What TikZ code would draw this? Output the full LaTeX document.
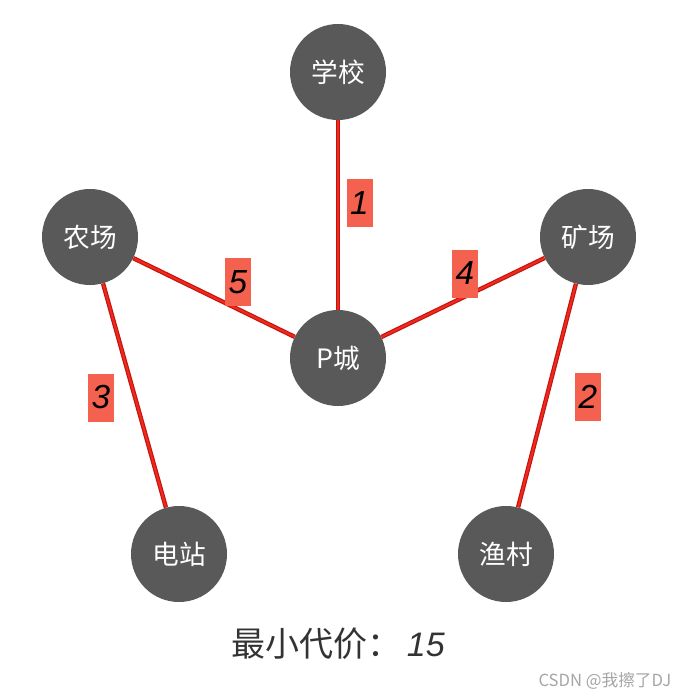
\documentclass[tikz,border=0pt]{standalone}
\usepackage{fontspec}
\setmainfont{Liberation Sans}
\newfontfamily\cjk{Noto Sans CJK SC}
\usepackage{tikz}
\tikzset{>=latex}
\definecolor{towngray}{HTML}{595959}
\definecolor{roadred}{HTML}{EE2A1E}
\definecolor{roaddark}{HTML}{C4120C}
\definecolor{costred}{HTML}{F4614F}
\tikzset{
    town/.style={circle, fill=towngray, minimum size=72pt, inner sep=0pt, text=white, font=\cjk\fontsize{20}{20}\selectfont},
    road/.style={draw=roaddark, line width=3.3pt, postaction={draw=roadred, line width=1.6pt}},
    cost/.style={fill=costred, minimum width=19.5pt, minimum height=36pt, inner sep=0pt, font=\itshape\fontsize{25}{25}\selectfont}
}

\begin{document}
\begin{tikzpicture}[x=0.75pt, y=-0.75pt]

    \useasboundingbox[fill=white] (0, 0) rectangle (690, 700);

    % Towns
    \node[town] (school) at (338, 72) {学校};
    \node[town] (farm) at (90, 237) {农场};
    \node[town] (mine) at (588, 237) {矿场};
    \node[town] (city) at (338, 358) {P城};
    \node[town] (plant) at (179, 554) {电站};
    \node[town] (village) at (506, 554) {渔村};

    % Roads of the tree
    \foreach \a/\b in {school/city, farm/city, city/mine, farm/plant, mine/village}{
            \draw[road] (\a) -- (\b);
        }

    % Costs
    \node[cost] (c1) at (359.5, 203) {1};
    \node[cost] (c5) at (238, 282) {5};
    \node[cost] (c4) at (465, 273.5) {4};
    \node[cost] (c3) at (101, 397.5) {3};
    \node[cost] (c2) at (588, 397) {2};

    \node[text=black!80, font=\fontsize{25.5}{25.5}\selectfont] (total) at (338, 644) {{\cjk 最小代价：}\,{\itshape 15}};

    \node[anchor=east, text=black!35, font=\cjk\fontsize{12.5}{12.5}\selectfont] (mark) at (676, 681) {CSDN @我擦了DJ};

\end{tikzpicture}
\end{document}
